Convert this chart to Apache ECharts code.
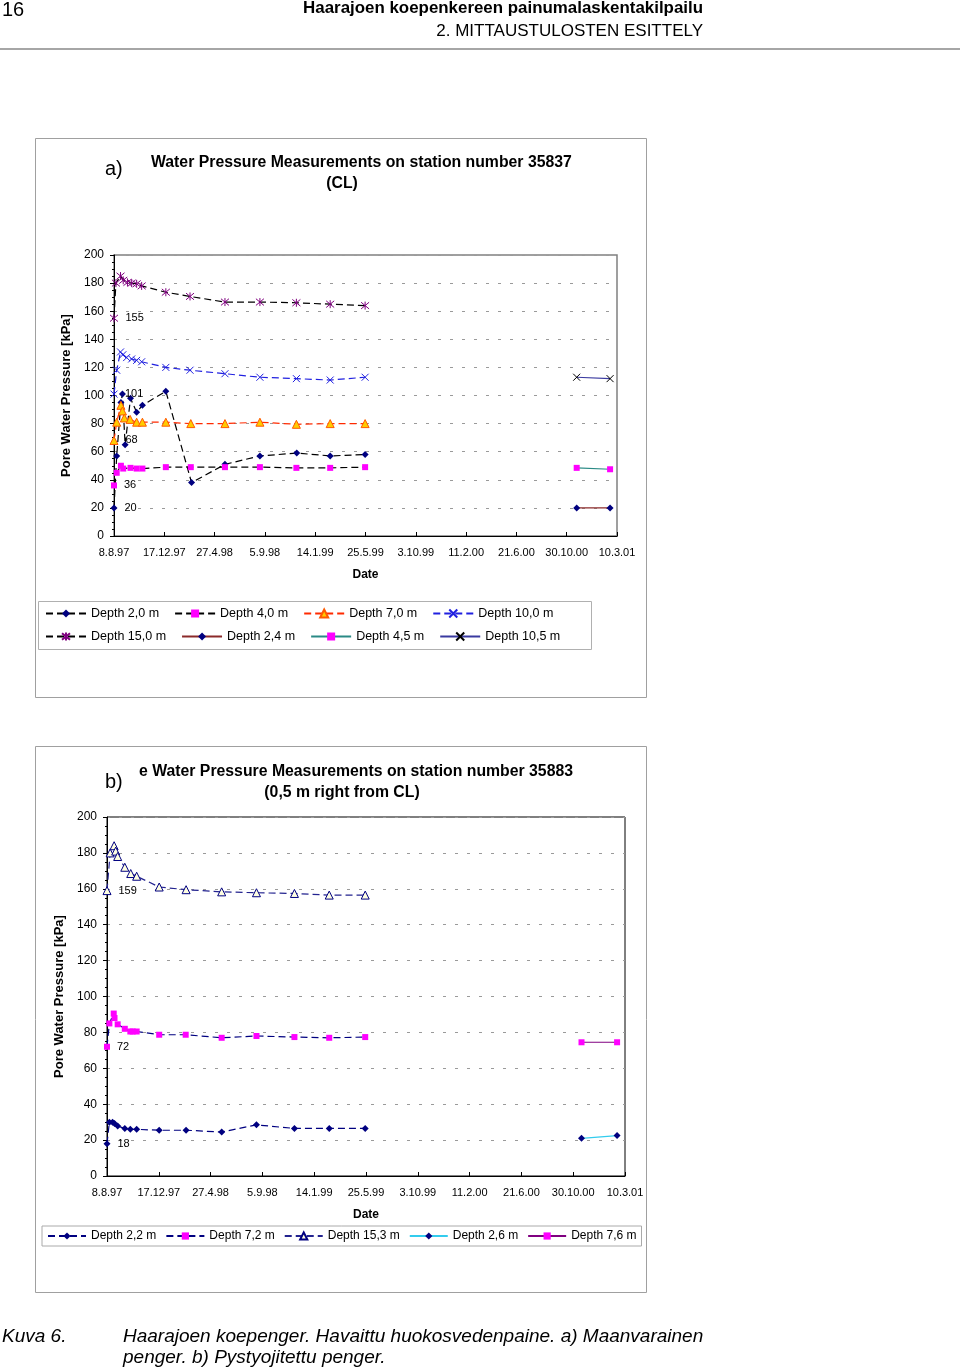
<!DOCTYPE html>
<html>
<head>
<meta charset="utf-8">
<script src="https://cdn.jsdelivr.net/npm/echarts@6/dist/echarts.min.js"></script>
<style>
  html, body { margin: 0; padding: 0; background: #fff; }
  #page { width: 960px; height: 1371px; }
</style>
</head>
<body>
<div id="page"></div>
<script>
/* ----------------------------  data: x = days since 8.8.97  ---------------------------- */
const xTickLabels = ['8.8.97', '17.12.97', '27.4.98', '5.9.98', '14.1.99', '25.5.99',
  '3.10.99', '11.2.00', '21.6.00', '30.10.00', '10.3.01'];
const xStep = 131;

// a) station 35837 (CL)
const a20Days = [0, 7, 18, 22, 29, 43, 59, 74, 135, 202, 289, 380, 476, 563, 654];
const a20Vals = [20, 57, 95, 101, 65, 98, 88, 93, 103, 38, 51, 57, 59, 57, 58];
const a40Days = [0, 7, 18, 24, 43, 59, 74, 135, 200, 289, 380, 475, 563, 654];
const a40Vals = [36, 45, 50, 48, 48.5, 48, 48, 49, 49, 49, 49, 48.5, 48.5, 49];
const a70Days = [0, 7, 18, 22, 27, 42, 59, 74, 135, 200, 289, 380, 475, 563, 654];
const a70Vals = [68, 81, 93, 89, 84, 83, 81, 81, 81, 80, 80, 81, 79.5, 80, 80];
const a100Days = [0, 7, 17, 23, 33, 46, 59, 72, 135, 198, 289, 380, 475, 563, 654];
const a100Vals = [101, 118, 131, 129, 127, 126, 125, 124, 120, 118, 115.5, 113, 112, 111, 113];
const a150Days = [0, 5, 17, 24, 35, 46, 59, 72, 135, 198, 289, 380, 475, 563, 654];
const a150Vals = [155, 180, 185, 182, 180.5, 180, 179.5, 178, 173.5, 170.5, 166.5, 166.5, 166, 165, 164];
const a24Days = [1205, 1292];
const a24Vals = [20, 20];
const a45Days = [1205, 1292];
const a45Vals = [48.5, 47.5];
const a105Days = [1205, 1292];
const a105Vals = [113, 112];

// b) station 35883 (0,5 m right from CL)
const b22Days = [0, 6, 14, 19, 27, 45, 59, 75, 132, 200, 290, 378, 474, 562, 653];
const b22Vals = [18, 30, 30, 29.3, 27.8, 26.5, 26, 26, 25.5, 25.5, 24.5, 28.5, 26.5, 26.5, 26.5];
const b72Days = [0, 6, 17, 19, 27, 45, 59, 65, 75, 132, 199, 290, 378, 474, 562, 653];
const b72Vals = [72, 85, 90.5, 88, 84.5, 82, 80.5, 80.5, 80.5, 78.7, 78.7, 77, 78, 77.4, 77, 77.4];
const b153Days = [0, 8, 18, 22, 27, 45, 60, 75, 132, 200, 290, 378, 474, 562, 653];
const b153Vals = [159, 180, 184, 181, 178, 172, 168.5, 167, 161, 159.5, 158.3, 157.8, 157.4, 156.5, 156.5];
const b26Days = [1200, 1290];
const b26Vals = [21, 22.5];
const b76Days = [1200, 1290];
const b76Vals = [74.5, 74.5];

/* ----------------------------  helpers  ---------------------------- */
const FONT = 'Liberation Sans, Arial, sans-serif';
const SYM_X = 'path://M0,0L10,10M10,0L0,10';
const SYM_STAR = 'path://M0,0L10,10M10,0L0,10M5,-1L5,11';
const DASH = [7, 4];

function mkData(days, vals, labelFirst) {
  return days.map((d, i) => {
    const item = { value: [d, vals[i]] };
    if (labelFirst && i === 0) {
      item.label = { show: true, position: 'right', distance: 7, formatter: String(vals[0]),
        fontSize: 11, fontFamily: FONT, color: '#000' };
    }
    return item;
  });
}

function line(name, idx, days, vals, o) {
  return {
    name, type: 'line', xAxisIndex: idx, yAxisIndex: idx,
    data: mkData(days, vals, o.label),
    symbol: o.symbol, symbolSize: o.size,
    itemStyle: { color: o.fill, borderColor: o.stroke || o.fill, borderWidth: o.bw || 0 },
    lineStyle: { color: o.line, type: o.dash ? DASH : 'solid', width: 1.2 },
    emphasis: { disabled: true },
  };
}

function xAxis(idx) {
  return {
    type: 'value', gridIndex: idx, min: 0, max: xStep * 10, interval: xStep,
    name: 'Date', nameLocation: 'middle', nameGap: 33,
    nameTextStyle: { fontSize: 12, fontWeight: 'bold', fontFamily: FONT, color: '#000' },
    axisLine: { lineStyle: { color: '#000' } },
    axisTick: { inside: true, length: 4, lineStyle: { color: '#000' } },
    axisLabel: { fontSize: 11, fontFamily: FONT, color: '#000', margin: 11, hideOverlap: false,
      showMaxLabel: true, formatter: (v) => xTickLabels[Math.round(v / xStep)] },
    splitLine: { show: false },
  };
}

function yAxis(idx) {
  return {
    type: 'value', gridIndex: idx, min: 0, max: 200, interval: 20,
    name: 'Pore Water Pressure [kPa]', nameLocation: 'middle', nameGap: 35,
    nameTextStyle: { fontSize: 13, fontWeight: 'bold', fontFamily: FONT, color: '#000' },
    axisLine: { show: true, lineStyle: { color: '#000' } },
    axisTick: { show: true, length: 4, lineStyle: { color: '#000' } },
    minorTick: { show: true, splitNumber: 4, length: 2, lineStyle: { color: '#000' } },
    axisLabel: { fontSize: 12, fontFamily: FONT, color: '#000', margin: 10 },
    splitLine: { lineStyle: { color: '#9a9a9a', type: [3, 9], width: 1 } },
  };
}

/* ----------------------------  chart  ---------------------------- */
const chart = echarts.init(document.getElementById('page'), null, { renderer: 'canvas' });

const series = [
  line('Depth 2,0 m', 0, a20Days, a20Vals, { symbol: 'diamond', size: 7, fill: '#000080', line: '#000', dash: true, label: true }),
  line('Depth 4,0 m', 0, a40Days, a40Vals, { symbol: 'rect', size: 6, fill: '#ff00ff', line: '#000', dash: true, label: true }),
  line('Depth 7,0 m', 0, a70Days, a70Vals, { symbol: 'triangle', size: 8, fill: '#ffcc00', stroke: '#ff5a00', bw: 1, line: '#ff2a00', dash: true, label: true }),
  line('Depth 10,0 m', 0, a100Days, a100Vals, { symbol: SYM_X, size: 7, fill: '#2020e0', stroke: '#2020e0', bw: 1, line: '#2020e0', dash: true, label: true }),
  line('Depth 15,0 m', 0, a150Days, a150Vals, { symbol: SYM_STAR, size: 8, fill: '#800080', stroke: '#800080', bw: 1, line: '#000', dash: true, label: true }),
  line('Depth 2,4 m', 0, a24Days, a24Vals, { symbol: 'diamond', size: 7, fill: '#000080', line: '#8b2a2a' }),
  line('Depth 4,5 m', 0, a45Days, a45Vals, { symbol: 'rect', size: 6, fill: '#ff00ff', line: '#2a8a85' }),
  line('Depth 10,5 m', 0, a105Days, a105Vals, { symbol: SYM_X, size: 7, fill: '#000', stroke: '#000', bw: 1, line: '#3a3aa0' }),

  line('Depth 2,2 m', 1, b22Days, b22Vals, { symbol: 'diamond', size: 7, fill: '#000080', line: '#000080', dash: true, label: true }),
  line('Depth 7,2 m', 1, b72Days, b72Vals, { symbol: 'rect', size: 6, fill: '#ff00ff', line: '#000080', dash: true, label: true }),
  line('Depth 15,3 m', 1, b153Days, b153Vals, { symbol: 'triangle', size: 8, fill: '#ffffe0', stroke: '#000080', bw: 1, line: '#23238f', dash: true, label: true }),
  line('Depth 2,6 m', 1, b26Days, b26Vals, { symbol: 'diamond', size: 7, fill: '#000080', line: '#33ccee' }),
  line('Depth 7,6 m', 1, b76Days, b76Vals, { symbol: 'rect', size: 6, fill: '#ff00ff', line: '#800080' }),
];

const legendText = { fontSize: 12.5, fontFamily: FONT, color: '#000' };

chart.setOption({
  animation: false,
  backgroundColor: '#fff',
  textStyle: { fontFamily: FONT },
  grid: [
    { left: 114, top: 255, width: 503, height: 281, show: true, borderColor: '#808080', borderWidth: 1.5, backgroundColor: 'transparent' },
    { left: 107, top: 817, width: 518, height: 359, show: true, borderColor: '#000', borderWidth: 1, backgroundColor: 'transparent' },
  ],
  xAxis: [xAxis(0), xAxis(1)],
  yAxis: [yAxis(0), yAxis(1)],
  legend: [
    { left: 45, top: 607, padding: 0, itemWidth: 40, itemHeight: 10, itemGap: 15,
      data: ['Depth 2,0 m', 'Depth 4,0 m', 'Depth 7,0 m', 'Depth 10,0 m'],
      textStyle: Object.assign({ width: 80 }, legendText), selectedMode: false },
    { left: 45, top: 630, padding: 0, itemWidth: 40, itemHeight: 10, itemGap: 15,
      data: ['Depth 15,0 m', 'Depth 2,4 m', 'Depth 4,5 m', 'Depth 10,5 m'],
      textStyle: Object.assign({ width: 80 }, legendText), selectedMode: false },
    { left: 42, top: 1226, padding: [4, 5], itemWidth: 38, itemHeight: 9, itemGap: 9,
      borderColor: '#aaa', borderWidth: 1,
      data: ['Depth 2,2 m', 'Depth 7,2 m', 'Depth 15,3 m', 'Depth 2,6 m', 'Depth 7,6 m'],
      textStyle: { fontSize: 12, fontFamily: FONT, color: '#000' }, selectedMode: false },
  ],
  graphic: [
    // page header
    { type: 'text', left: 2, top: 0, style: { text: '16', font: '20px ' + FONT, fill: '#000' } },
    { type: 'text', x: 703, y: 8, style: { text: 'Haarajoen koepenkereen painumalaskentakilpailu',
      font: 'bold 16.9px ' + FONT, fill: '#000', align: 'right', verticalAlign: 'middle' } },
    { type: 'text', x: 703, y: 31, style: { text: '2. MITTAUSTULOSTEN ESITTELY',
      font: '17px ' + FONT, fill: '#000', align: 'right', verticalAlign: 'middle' } },
    { type: 'line', shape: { x1: 0, y1: 49, x2: 960, y2: 49 }, style: { stroke: '#888', lineWidth: 1.5 } },

    // chart a frame + titles
    { type: 'rect', shape: { x: 35.5, y: 138.5, width: 611, height: 559 }, style: { fill: null, stroke: '#a0a0a0', lineWidth: 1 }, z: -1 },
    { type: 'rect', shape: { x: 38.5, y: 601.5, width: 553, height: 48 }, style: { fill: null, stroke: '#b0b0b0', lineWidth: 1 } },
    { type: 'text', x: 105, y: 169, style: { text: 'a)', font: '20px ' + FONT, fill: '#000', verticalAlign: 'middle' } },
    { type: 'text', x: 151, y: 163, style: { text: 'Water Pressure Measurements on station number 35837',
      font: 'bold 15.8px ' + FONT, fill: '#000', verticalAlign: 'middle' } },
    { type: 'text', x: 342, y: 184, style: { text: '(CL)', font: 'bold 15.8px ' + FONT, fill: '#000', align: 'center', verticalAlign: 'middle' } },

    // chart b frame + titles
    { type: 'rect', shape: { x: 35.5, y: 746.5, width: 611, height: 546 }, style: { fill: null, stroke: '#a0a0a0', lineWidth: 1 }, z: -1 },
    { type: 'text', x: 105, y: 782, style: { text: 'b)', font: '20px ' + FONT, fill: '#000', verticalAlign: 'middle' } },
    { type: 'text', x: 139, y: 772, style: { text: 'e Water Pressure Measurements on station number 35883',
      font: 'bold 15.8px ' + FONT, fill: '#000', verticalAlign: 'middle' } },
    { type: 'text', x: 342, y: 793, style: { text: '(0,5 m right from CL)', font: 'bold 15.8px ' + FONT, fill: '#000', align: 'center', verticalAlign: 'middle' } },

    // caption
    { type: 'text', x: 2, y: 1337, style: { text: 'Kuva 6.', font: 'italic 19px ' + FONT, fill: '#000', verticalAlign: 'middle' } },
    { type: 'text', x: 123, y: 1337, style: { text: 'Haarajoen koepenger. Havaittu huokosvedenpaine. a) Maanvarainen',
      font: 'italic 19px ' + FONT, fill: '#000', verticalAlign: 'middle' } },
    { type: 'text', x: 123, y: 1358, style: { text: 'penger. b) Pystyojitettu penger.',
      font: 'italic 19px ' + FONT, fill: '#000', verticalAlign: 'middle' } },
  ],
  series,
});
</script>
</body>
</html>
